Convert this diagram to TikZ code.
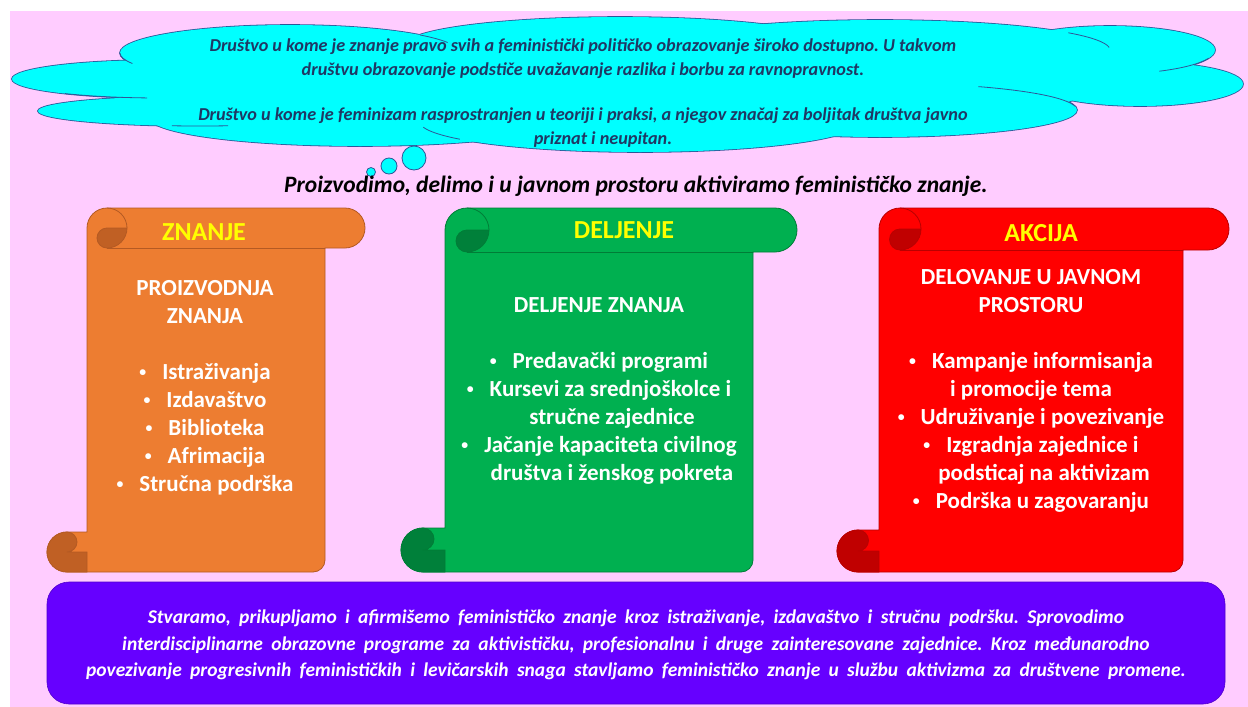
\documentclass[tikz,border=0pt]{standalone}
\usepackage{fontspec}
\setmainfont{Carlito}
\usetikzlibrary{positioning}
\frenchspacing

\definecolor{pinkbg}{RGB}{255,204,255}
\definecolor{cloudcyan}{RGB}{0,255,255}
\definecolor{cloudline}{RGB}{47,85,151}
\definecolor{cloudtext}{RGB}{31,56,100}
\definecolor{headyellow}{RGB}{255,255,0}
\definecolor{orangemain}{RGB}{237,125,49}
\definecolor{orangedark}{RGB}{192,96,36}
\definecolor{orangeedge}{RGB}{180,90,35}
\definecolor{greenmain}{RGB}{0,176,80}
\definecolor{greendark}{RGB}{0,128,58}
\definecolor{greenedge}{RGB}{0,125,55}
\definecolor{redmain}{RGB}{255,0,0}
\definecolor{reddark}{RGB}{192,0,0}
\definecolor{rededge}{RGB}{185,0,0}
\definecolor{purplebox}{RGB}{102,0,255}

% wider word spaces for the summary
\newcommand{\widespaces}{\spaceskip=8.3pt plus 1pt\relax}
% small list bullet
\newcommand{\itm}{\raisebox{0.12em}{\scalebox{0.6}{•}}\hspace{16pt}}

\tikzset{
  cloudedge/.style={draw=cloudline, line width=1.6pt},
  innerarc/.style={draw=cloudline, line width=0.8pt},
  cloudtxt/.style={align=center, text=cloudtext, font=\fontsize{18.2}{24}\selectfont\bfseries\itshape},
  mottotext/.style={text=black, font=\fontsize{23.5}{27}\selectfont\bfseries\itshape},
  headtext/.style={text=headyellow, font=\fontsize{26}{28}\selectfont\bfseries},
  bodytext/.style={align=center, text=white, anchor=north, inner sep=0pt, font=\fontsize{23}{28}\selectfont\bfseries},
  boxtext/.style={align=center, text=white, font=\fontsize{19.5}{26.5}\selectfont\bfseries\itshape\widespaces},
}

% scroll: #1 left, #2 band right, #3 body right, #4 roll size, #5 fill, #6 roll, #7 edge
\newcommand{\drawscroll}[7]{%
  \filldraw[fill=#5, draw=#7, line width=0.8pt]
    (#1+#4,208) -- (#2-#4,208) arc[start angle=-90, end angle=90, radius=#4]
    -- (#3,208+2*#4) -- (#3,560) arc[start angle=0, end angle=90, radius=12]
    -- (#1-#4,572) arc[start angle=90, end angle=270, radius=#4]
    -- (#1,572-2*#4) -- (#1,208+#4) arc[start angle=180, end angle=270, radius=#4] -- cycle;
  \draw[draw=#7, line width=0.8pt] (#1+#4,208+2*#4) -- (#3,208+2*#4);
  % top roll
  \filldraw[fill=#6, draw=#7, line width=0.8pt]
    (#1+#4,208+#4) -- (#1+2*#4,208+#4) arc[start angle=0, end angle=90, radius=#4]
    arc[start angle=90, end angle=270, radius=#4/2] -- cycle;
  \draw[draw=#7, line width=0.8pt] (#1+#4,208) arc[start angle=-90, end angle=0, radius=#4];
  % bottom roll
  \filldraw[fill=#6, draw=#7, line width=0.8pt]
    (#1-#4,572-2*#4) arc[start angle=270, end angle=90, radius=#4]
    -- (#1,572) -- (#1,572-#4) -- (#1-#4,572-#4)
    arc[start angle=90, end angle=-90, radius=#4/2] -- cycle;
}

\def\cloudlobes{290/53/170/28, 160/79/148/19, 200/111/162/15, 620/45/215/28,
  880/50/230/30, 1110/50/105/24, 1140/84/103/22, 880/110/197/27,
  360/118/210/28, 640/122/220/30, 640/85/450/55}

\begin{document}
\begin{tikzpicture}[x=1pt, y=-1pt]
        \useasboundingbox (0,0) rectangle (1248,707);
        \fill[white] (0,0) rectangle (1248,707);
        \fill[pinkbg] (10,11) rectangle (1248,707);

        % Cloud
        \foreach \cx/\cy/\rx/\ry in \cloudlobes
          \draw[cloudedge] (\cx,\cy) ellipse [x radius=\rx, y radius=\ry];
        \foreach \cx/\cy/\rx/\ry in \cloudlobes
          \fill[cloudcyan] (\cx,\cy) ellipse [x radius=\rx, y radius=\ry];
        \foreach \cx/\cy/\rx/\ry/\a/\b in {290/53/170/28/180/158, 290/53/170/28/-40/-22,
            160/79/148/19/130/95, 200/111/162/15/100/80, 880/50/230/30/-35/-5,
            1110/50/105/24/62/20, 880/110/197/27/-60/-8, 640/122/220/30/170/145}
          \draw[innerarc] ({\cx+\rx*cos(\a)},{\cy+\ry*sin(\a)}) arc[start angle=\a, end angle=\b, x radius=\rx, y radius=\ry];
        \foreach \cx/\cy/\r in {371/172/4.5, 389/166/8, 414/158/12}
          \filldraw[fill=cloudcyan, draw=cloudline, line width=0.8pt] (\cx,\cy) circle [radius=\r];

        \node[cloudtxt] (vision) at (583,93) {Društvo u kome je znanje pravo svih a feministički političko obrazovanje široko dostupno. U takvom\\
          društvu obrazovanje podstiče uvažavanje razlika i borbu za ravnopravnost.\\[21pt]
          Društvo u kome je feminizam rasprostranjen u teoriji i praksi, a njegov značaj za boljitak društva javno\\
          \hspace*{40pt}priznat i neupitan.};

        % Motto
        \node[mottotext] (motto) at (636,186) {Proizvodimo, delimo i u javnom prostoru aktiviramo feminističko znanje.};

        % Scrolls
        \drawscroll{87}{365}{325}{20}{orangemain}{orangedark}{orangeedge}
        \drawscroll{445}{797}{753}{22}{greenmain}{greendark}{greenedge}
        \drawscroll{879}{1229}{1183}{21}{redmain}{reddark}{rededge}

        \node[headtext] (znanje) at (204,232) {ZNANJE};
        \node[headtext] (deljenje) at (624,230) {DELJENJE};
        \node[headtext] (akcija) at (1041,233) {AKCIJA};

        \node[bodytext] (proizvodnja) at (205,280) {PROIZVODNJA\\ZNANJA\\[28pt]
          \itm Istraživanja\\
          \itm Izdavaštvo\\
          \itm Biblioteka\\
          \itm Afrimacija\\
          \itm Stručna podrška};
        \node[bodytext] (deljenjeznanja) at (599,297) {DELJENJE ZNANJA\\[28pt]
          \itm Predavački programi\\
          \itm Kursevi za srednjoškolce i\\
          \hspace*{26pt}stručne zajednice\\
          \itm Jačanje kapaciteta civilnog\\
          \hspace*{26pt}društva i ženskog pokreta};
        \node[bodytext] (delovanje) at (1031,269) {DELOVANJE U JAVNOM\\PROSTORU\\[28pt]
          \itm Kampanje informisanja\\
          i promocije tema\\
          \itm Udruživanje i povezivanje\\
          \itm Izgradnja zajednice i\\
          \hspace*{26pt}podsticaj na aktivizam\\
          \itm Podrška u zagovaranju};

        % Summary box
        \filldraw[fill=purplebox, draw=purplebox!80!black, line width=0.6pt, rounded corners=22pt] (47,582) rectangle (1225,704);
        \node[boxtext] (summary) at (636,645) {Stvaramo, prikupljamo i afirmišemo feminističko znanje kroz istraživanje, izdavaštvo i stručnu podršku. Sprovodimo\\
          interdisciplinarne obrazovne programe za aktivističku, profesionalnu i druge zainteresovane zajednice. Kroz međunarodno\\
          povezivanje progresivnih feminističkih i levičarskih snaga stavljamo feminističko znanje u službu aktivizma za društvene promene.};
\end{tikzpicture}
\end{document}
